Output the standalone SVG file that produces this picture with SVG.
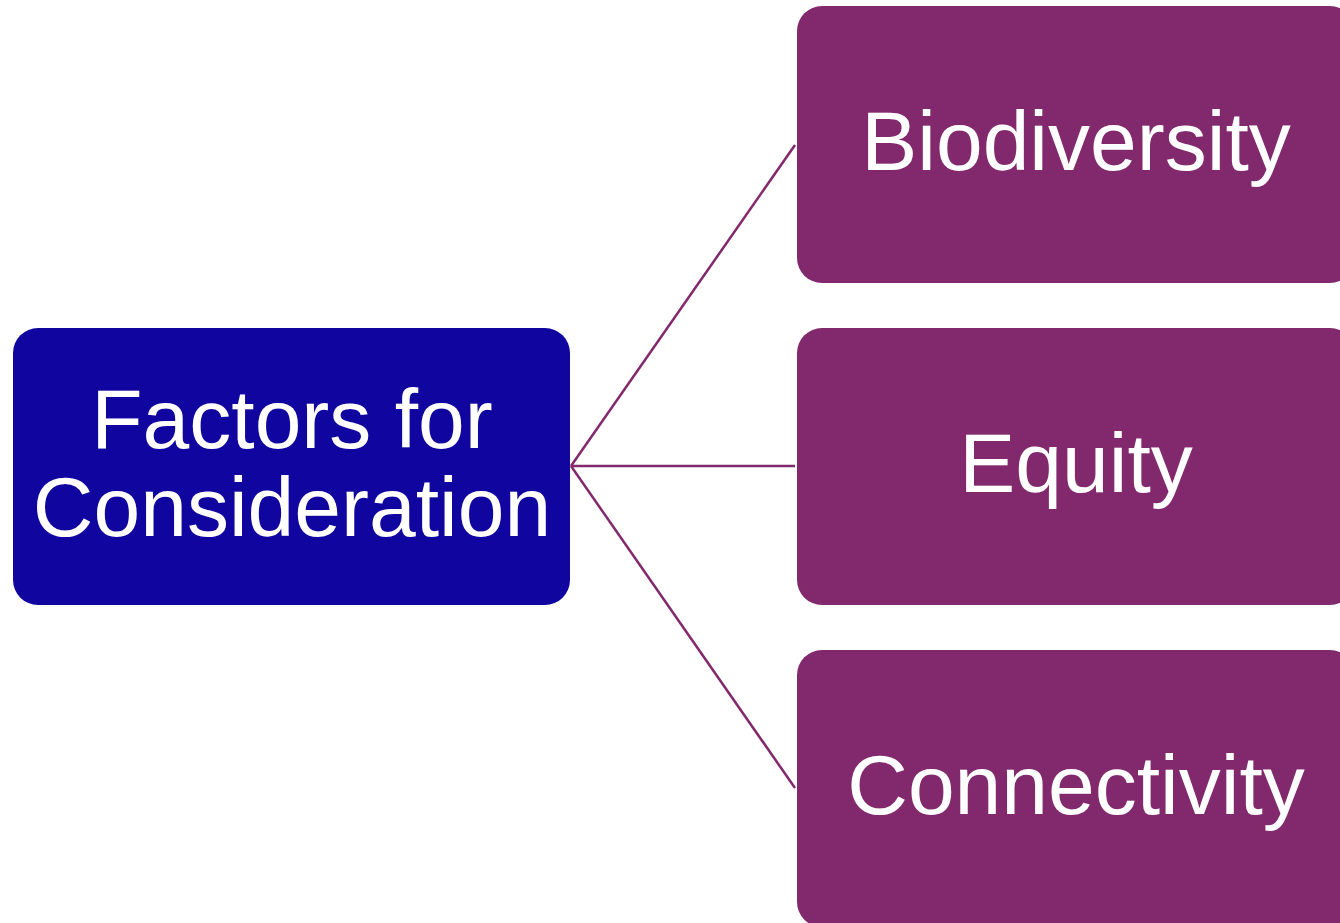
<svg xmlns="http://www.w3.org/2000/svg" width="1340" height="923" viewBox="0 0 1340 923">
<style>
.t{font-family:"Liberation Sans",Arial,sans-serif;font-size:84px;fill:#ffffff;text-anchor:middle}
.c{stroke:#82286C;stroke-width:2.5;fill:none}
.p{fill:#82286C}
</style>
<rect width="1340" height="923" fill="#ffffff"/>
<g id="connectors">
<line class="c" x1="571" y1="466" x2="795" y2="145"/>
<line class="c" x1="571" y1="466" x2="795" y2="466"/>
<line class="c" x1="571" y1="466" x2="795" y2="788"/>
</g>
<g id="factors">
<rect x="13" y="328" width="557" height="277" rx="25" fill="#10069F"/>
<text class="t" x="292" y="448">Factors for</text>
<text class="t" x="292" y="536">Consideration</text>
</g>
<g id="biodiversity">
<rect class="p" x="797" y="6" width="558" height="277" rx="25"/>
<text class="t" x="1076" y="170">Biodiversity</text>
</g>
<g id="equity">
<rect class="p" x="797" y="328" width="558" height="277" rx="25"/>
<text class="t" x="1076" y="492">Equity</text>
</g>
<g id="connectivity">
<rect class="p" x="797" y="650" width="558" height="277" rx="25"/>
<text class="t" x="1076" y="814">Connectivity</text>
</g>
</svg>
